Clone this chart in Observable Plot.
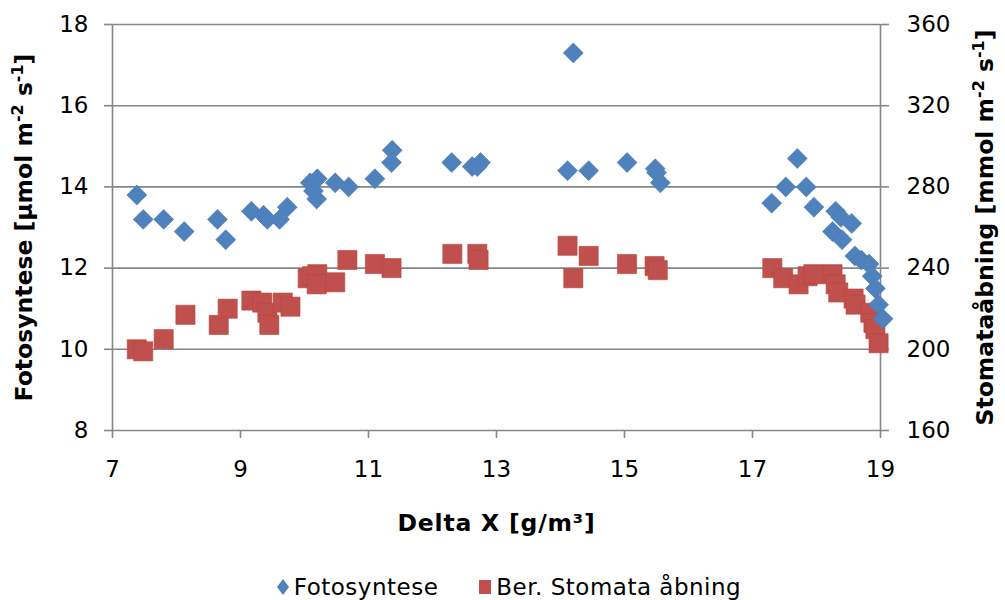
<!DOCTYPE html>
<html>
<head>
<meta charset="utf-8">
<script src="https://cdn.jsdelivr.net/npm/d3@7"></script>
<script src="https://cdn.jsdelivr.net/npm/@observablehq/plot@0.6"></script>
<style>
  html, body { margin: 0; padding: 0; background: #fff; }
  #chart svg { font-family: "DejaVu Sans", Verdana, sans-serif; }
  #chart svg g[aria-label="y-axis label"] text { font-weight: bold; font-size: 23.5px; }
  #chart svg g[aria-label="x-axis label"] text { font-weight: bold; font-size: 23.5px; letter-spacing: 0.8px; }
  #legend { display: flex; justify-content: center; align-items: center; height: 35px; padding-top: 4px;
            font-family: "DejaVu Sans", Verdana, sans-serif; font-size: 23px; letter-spacing: 0.5px; color: #000; padding-left: 12px; }
  #legend .item { display: flex; align-items: center; margin: 0 20px; }
  #legend .sym { margin-right: 4px; }
</style>
</head>
<body>
<div id="chart"></div>
<div id="legend"></div>
<script>
// Delta X [g/m3] and Fotosyntese [µmol m-2 s-1]
const fotoX = [7.38, 7.48, 7.8, 8.12, 8.64, 8.77, 9.17, 9.36, 9.42, 9.61, 9.73,
  10.09, 10.2, 10.14, 10.19, 10.48, 10.69, 11.1, 11.37, 11.36, 12.3, 12.62, 12.75, 12.7,
  14.2, 14.11, 14.44, 15.04, 15.48, 15.5, 15.56,
  17.3, 17.52, 17.7, 17.84, 17.96, 18.3, 18.38, 18.55, 18.25, 18.4, 18.6, 18.7, 18.82,
  18.87, 18.92, 18.97, 19.04];
const fotoY = [13.8, 13.2, 13.2, 12.9, 13.2, 12.7, 13.4, 13.3, 13.2, 13.2, 13.5,
  14.1, 14.2, 13.9, 13.7, 14.1, 14.0, 14.2, 14.9, 14.6, 14.6, 14.5, 14.6, 14.5,
  17.3, 14.4, 14.4, 14.6, 14.45, 14.35, 14.1,
  13.6, 14.0, 14.7, 14.0, 13.5, 13.4, 13.25, 13.1, 12.9, 12.7, 12.3, 12.2, 12.1,
  11.8, 11.5, 11.1, 10.75];

// Delta X [g/m3] and Ber. Stomata åbning [mmol m-2 s-1]
const stomX = [7.38, 7.48, 7.8, 8.14, 8.66, 8.8, 9.17, 9.34, 9.42, 9.45, 9.66, 9.78,
  10.05, 10.2, 10.12, 10.19, 10.48, 10.67, 11.1, 11.36, 12.31, 12.7, 12.72,
  14.11, 14.44, 14.2, 15.04, 15.47, 15.52,
  17.31, 17.48, 17.72, 17.86, 17.95, 18.25, 18.3, 18.34, 18.58, 18.61, 18.84, 18.89, 18.92, 18.97];
const stomY = [200, 199, 205, 217, 212, 220, 224, 223, 218, 212, 223, 221,
  235, 237, 236, 232, 233, 244, 242, 240, 247, 247, 244,
  251, 246, 235, 242, 241, 239,
  240, 235, 232, 236, 237, 237, 232, 228, 225, 222, 218, 213, 210, 203];

const xTicks = [7, 9, 11, 13, 15, 17, 19];
const leftTicks = [8, 10, 12, 14, 16, 18];
const ratio = 20; // right axis = left axis * 20 (160..360 vs 8..18)

const fotoData = fotoX.map((x, i) => ({x, y: fotoY[i]}));
const stomData = stomX.map((x, i) => ({x, y: stomY[i]}));

const blue = "#4F81BD", red = "#C0504D", gray = "#868686";

const plot = Plot.plot({
  width: 1005,
  height: 565,
  marginTop: 24,
  marginBottom: 135,
  marginLeft: 112,
  marginRight: 125,
  style: {fontSize: "23px", fontFamily: "DejaVu Sans, Verdana, sans-serif", color: "#000", background: "#fff"},
  x: {domain: [7, 19]},
  y: {domain: [8, 18]},
  marks: [
    Plot.gridY(leftTicks, {stroke: gray, strokeOpacity: 1, strokeWidth: 1.6}),
    Plot.ruleX([7, 19], {stroke: gray, strokeWidth: 1.6}),
    Plot.axisX(xTicks, {tickSize: 8, tickPadding: 22, stroke: gray, strokeWidth: 1.6,
      label: "Delta X [g/m³]", labelAnchor: "center", labelArrow: "none", labelOffset: 100}),
    Plot.axisY(leftTicks, {anchor: "left", tickSize: 8, tickPadding: 16, stroke: gray, strokeWidth: 1.6,
      label: "Fotosyntese [µmol m-2 s-1]", labelAnchor: "center", labelArrow: "none", labelOffset: 97}),
    Plot.axisY(leftTicks, {anchor: "right", tickSize: 8, tickPadding: 18, stroke: gray, strokeWidth: 1.6,
      tickFormat: d => String(d * ratio),
      label: "Stomataåbning [mmol m-2 s-1]", labelAnchor: "center", labelArrow: "none", labelOffset: 112}),
    Plot.dot(stomData, {x: "x", y: d => d.y / ratio, symbol: "square", r: 10.8, fill: red, stroke: "#b8443f", strokeWidth: 0.6}),
    Plot.dot(fotoData, {x: "x", y: "y", symbol: "diamond2", r: 9, fill: blue, stroke: "#4a7bb5", strokeWidth: 0.6})
  ]
});
document.getElementById("chart").appendChild(plot);

// superscripts in axis titles
const sup = s => `<tspan baseline-shift="super" font-size="68%">${s}</tspan>`;
plot.querySelectorAll('g[aria-label="y-axis label"] text').forEach(t => {
  const txt = t.textContent;
  if (txt.startsWith("Fotosyntese")) {
    t.innerHTML = `Fotosyntese [µmol m${sup("-2")} s${sup("-1")}]`;
  } else {
    t.innerHTML = `Stomataåbning [mmol m${sup("-2")} s${sup("-1")}]`;
  }
});

// legend
const legendItems = [
  {label: "Fotosyntese", color: blue, shape: "diamond"},
  {label: "Ber. Stomata åbning", color: red, shape: "square"}
];
const lg = document.getElementById("legend");
legendItems.forEach(it => {
  const el = document.createElement("span");
  el.className = "item";
  const svgNS = "http://www.w3.org/2000/svg";
  const s = document.createElementNS(svgNS, "svg");
  s.setAttribute("width", 14); s.setAttribute("height", 20); s.setAttribute("class", "sym");
  const p = document.createElementNS(svgNS, "path");
  p.setAttribute("d", it.shape === "diamond" ? "M7,2L13,10L7,18L1,10Z" : "M1,3H13V17H1Z");
  p.setAttribute("fill", it.color);
  s.appendChild(p);
  el.appendChild(s);
  const tx = document.createElement("span");
  tx.textContent = it.label;
  el.appendChild(tx);
  lg.appendChild(el);
});
</script>
</body>
</html>
